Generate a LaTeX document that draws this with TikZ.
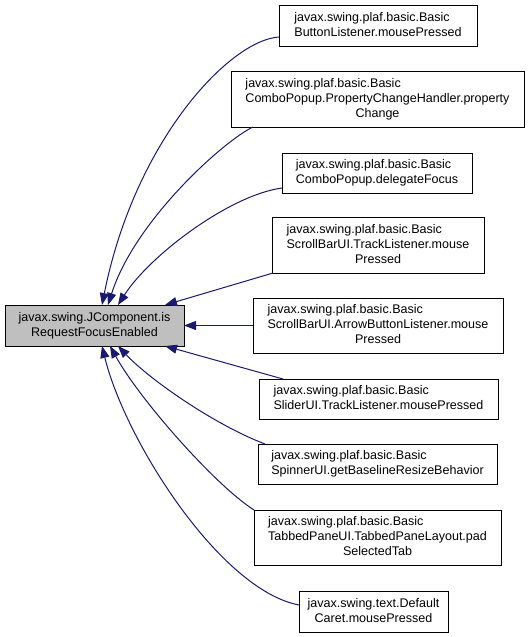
\documentclass[tikz,border=0pt]{standalone}
\usepackage{fontspec}
\setmainfont{Liberation Sans}
\usetikzlibrary{arrows.meta,calc}
\definecolor{edgeblue}{HTML}{191970}
\definecolor{focusgray}{HTML}{BFBFBF}
\newcommand{\boxlines}[1]{\begin{tabular}{@{}l@{}}#1\end{tabular}}
\newcommand{\lastline}[1]{\multicolumn{1}{@{}c@{}}{#1}}
\begin{document}
\begin{tikzpicture}[x=0.75pt,y=-0.75pt,
  fnbox/.style={draw=black,line width=0.75pt,fill=white,inner sep=0pt,outer sep=0pt,
    font=\fontsize{9.4}{11.25}\selectfont},
  focusbox/.style={fnbox,fill=focusgray},
  callarrow/.style={draw=edgeblue,line width=0.75pt,
    -{Triangle[length=9pt,width=6.75pt,fill=edgeblue]}}
]
\useasboundingbox (0,0) rectangle (529,637);

\node[focusbox,minimum width=179*0.75pt,minimum height=41*0.75pt] (L) at (94.5,325.5)
  {\boxlines{javax.swing.JComponent.is\\\lastline{RequestFocusEnabled}}};

\node[fnbox,minimum width=198*0.75pt,minimum height=41*0.75pt] (n1) at (378,25.5)
  {\boxlines{javax.swing.plaf.basic.Basic\\\lastline{ButtonListener.mousePressed}}};
\node[fnbox,minimum width=293*0.75pt,minimum height=56*0.75pt] (n2) at (377.5,99)
  {\boxlines{javax.swing.plaf.basic.Basic\\ComboPopup.PropertyChangeHandler.property\\\lastline{Change}}};
\node[fnbox,minimum width=190*0.75pt,minimum height=40*0.75pt] (n3) at (377,173)
  {\boxlines{javax.swing.plaf.basic.Basic\\\lastline{ComboPopup.delegateFocus}}};
\node[fnbox,minimum width=212*0.75pt,minimum height=56*0.75pt] (n4) at (378,245)
  {\boxlines{javax.swing.plaf.basic.Basic\\ScrollBarUI.TrackListener.mouse\\\lastline{Pressed}}};
\node[fnbox,minimum width=250*0.75pt,minimum height=55*0.75pt] (n5) at (378,325.5)
  {\boxlines{javax.swing.plaf.basic.Basic\\ScrollBarUI.ArrowButtonListener.mouse\\\lastline{Pressed}}};
\node[fnbox,minimum width=239*0.75pt,minimum height=40*0.75pt] (n6) at (378.5,399)
  {\boxlines{javax.swing.plaf.basic.Basic\\\lastline{SliderUI.TrackListener.mousePressed}}};
\node[fnbox,minimum width=239*0.75pt,minimum height=40*0.75pt] (n7) at (377.5,464)
  {\boxlines{javax.swing.plaf.basic.Basic\\\lastline{SpinnerUI.getBaselineResizeBehavior}}};
\node[fnbox,minimum width=247*0.75pt,minimum height=55*0.75pt] (n8) at (377.5,537.5)
  {\boxlines{javax.swing.plaf.basic.Basic\\TabbedPaneUI.TabbedPaneLayout.pad\\\lastline{SelectedTab}}};
\node[fnbox,minimum width=149*0.75pt,minimum height=41*0.75pt] (n9) at (373.5,611.5)
  {\boxlines{javax.swing.text.Default\\\lastline{Caret.mousePressed}}};

% connectors (callers -> called)
\draw[callarrow] ($(n1.west)+(0,11.5)$) .. controls (230,40) and (135,140) .. ($(L.north)+(7.5,0)$);
\draw[callarrow] ($(n2.south west)+(22,0)$) .. controls (225,140) and (135,220) .. ($(L.north)+(13.5,0)$);
\draw[callarrow] ($(n3.west)+(0,15)$) .. controls (230,195) and (150,255) .. ($(L.north)+(23.5,0)$);
\draw[callarrow] ($(n4.south west)+(1,0)$) -- ($(L.north east)+(-19,0)$);
\draw[callarrow] (n5.west) -- (L.east);
\draw[callarrow] ($(n6.north west)+(24,0)$) -- ($(L.south east)+(-19,0)$);
\draw[callarrow] ($(n7.north west)+(7,0)$) .. controls (215,425) and (150,380) .. ($(L.south)+(23.5,0)$);
\draw[callarrow] (n8.north west) .. controls (215,485) and (140,400) .. ($(L.south)+(15.5,0)$);
\draw[callarrow] ($(n9.west)+(0,-6.5)$) .. controls (220,590) and (125,440) .. ($(L.south)+(7.5,0)$);
\end{tikzpicture}
\end{document}
